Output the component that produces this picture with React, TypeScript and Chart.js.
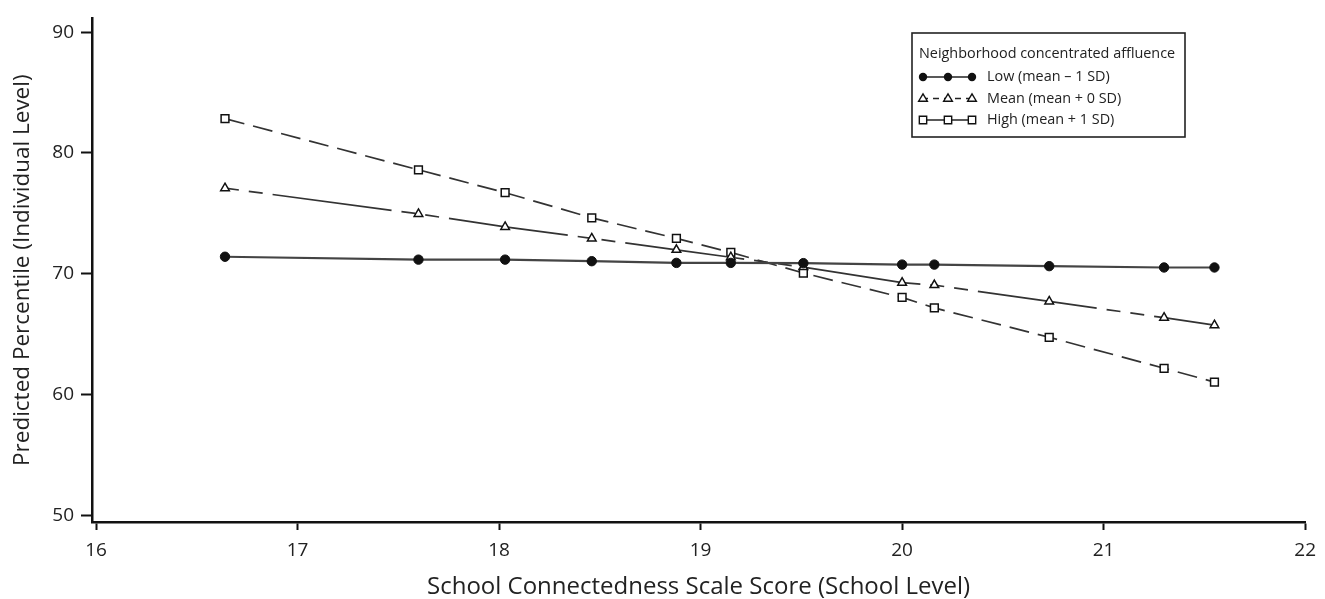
import React, { useEffect, useRef } from 'react';
import { Chart, registerables } from 'chart.js';

Chart.register(...registerables);

// School connectedness scale score (school level)
const xValues = [16.64, 17.6, 18.03, 18.46, 18.88, 19.15, 19.51, 20.0, 20.16, 20.73, 21.3, 21.55];
// Predicted percentile by neighborhood concentrated affluence
const lowValues = [71.4, 71.16, 71.16, 71.03, 70.89, 70.89, 70.87, 70.75, 70.75, 70.62, 70.51, 70.51];
const meanValues = [77.08, 74.95, 73.87, 72.92, 71.97, 71.36, 70.54, 69.25, 69.05, 67.7, 66.35, 65.73];
const highValues = [82.84, 78.6, 76.71, 74.62, 72.92, 71.76, 70.05, 68.03, 67.16, 64.73, 62.16, 61.02];

const seriesLabels = ['Low (mean \u2013 1 SD)', 'Mean (mean + 0 SD)', 'High (mean + 1 SD)'];
const legendTitle = 'Neighborhood concentrated affluence';
const xTicks = [16, 17, 18, 19, 20, 21, 22];
const yTicks = [50, 60, 70, 80, 90];
const xTitle = 'School Connectedness Scale Score (School Level)';
const yTitle = 'Predicted Percentile (Individual Level)';

const FONT = '"Open Sans", "Noto Sans", sans-serif';

function drawMarker(ctx: CanvasRenderingContext2D, style: string, x: number, y: number, r: number) {
  ctx.save();
  ctx.setLineDash([]);
  ctx.lineWidth = 1.4;
  ctx.strokeStyle = '#111';
  ctx.beginPath();
  if (style === 'circle') {
    ctx.fillStyle = '#111';
    ctx.arc(x, y, r, 0, Math.PI * 2);
    ctx.fill();
  } else if (style === 'triangle') {
    ctx.fillStyle = '#fff';
    ctx.moveTo(x, y - r);
    ctx.lineTo(x + r * 0.95, y + r * 0.6);
    ctx.lineTo(x - r * 0.95, y + r * 0.6);
    ctx.closePath();
    ctx.fill();
    ctx.stroke();
  } else {
    ctx.fillStyle = '#fff';
    ctx.rect(x - r * 0.8, y - r * 0.8, r * 1.6, r * 1.6);
    ctx.fill();
    ctx.stroke();
  }
  ctx.restore();
}

const boxLegend = {
  id: 'boxLegend',
  afterDatasetsDraw(chart: any) {
    const ctx: CanvasRenderingContext2D = chart.ctx;
    const left = 912;
    const top = 33;
    const w = 273;
    const h = 104;
    ctx.save();
    ctx.fillStyle = '#fff';
    ctx.fillRect(left, top, w, h);
    ctx.strokeStyle = '#222';
    ctx.lineWidth = 1.6;
    ctx.strokeRect(left, top, w, h);
    ctx.fillStyle = '#222';
    ctx.font = `14.4px ${FONT}`;
    ctx.textBaseline = 'middle';
    ctx.textAlign = 'left';
    ctx.fillText(legendTitle, 919, 54);
    const rows = [77, 98.5, 120];
    const styles = ['circle', 'triangle', 'rect'];
    const dashes = [[], [6, 5], []];
    chart.data.datasets.forEach((ds: any, i: number) => {
      const y = rows[i];
      ctx.save();
      ctx.strokeStyle = '#222';
      ctx.lineWidth = 1.6;
      ctx.setLineDash(dashes[i]);
      ctx.beginPath();
      ctx.moveTo(922, y);
      ctx.lineTo(973, y);
      ctx.stroke();
      ctx.restore();
      [923, 948, 972].forEach((mx) => drawMarker(ctx, styles[i], mx, y, i === 0 ? 4.2 : 4.6));
      ctx.fillStyle = '#222';
      ctx.font = `14.4px ${FONT}`;
      ctx.fillText(ds.label, 987, y);
    });
    ctx.restore();
  },
};

export default function App() {
  const canvasRef = useRef<HTMLCanvasElement | null>(null);

  useEffect(() => {
    document.body.style.margin = '0';
    const canvas = canvasRef.current;
    if (!canvas) return;
    const toPts = (vals: number[]) => vals.map((v, i) => ({ x: xValues[i], y: v }));
    const chart = new Chart(canvas, {
      type: 'line',
      data: {
        datasets: [
          {
            label: seriesLabels[0],
            data: toPts(lowValues),
            borderColor: '#444',
            borderWidth: 2.2,
            pointStyle: 'circle',
            pointRadius: 4.7,
            pointBackgroundColor: '#111',
            pointBorderColor: '#111',
            pointBorderWidth: 1,
            tension: 0,
          },
          {
            label: seriesLabels[1],
            data: toPts(meanValues),
            borderColor: '#333',
            borderWidth: 1.7,
            borderDash: [14, 10, 14, 10, 120, 10],
            pointStyle: 'triangle',
            pointRadius: 5,
            pointBackgroundColor: '#fff',
            pointBorderColor: '#111',
            pointBorderWidth: 1.5,
            tension: 0,
          },
          {
            label: seriesLabels[2],
            data: toPts(highValues),
            borderColor: '#333',
            borderWidth: 1.7,
            borderDash: [20, 9],
            pointStyle: 'rect',
            pointRadius: 5.5,
            pointBackgroundColor: '#fff',
            pointBorderColor: '#111',
            pointBorderWidth: 1.5,
            tension: 0,
          },
        ],
      },
      options: {
        responsive: false,
        animation: false,
        layout: { padding: { left: 0, top: 10, right: 19, bottom: 0 } },
        plugins: {
          legend: { display: false },
          tooltip: { enabled: false },
        },
        scales: {
          x: {
            type: 'linear',
            min: 15.98,
            max: 22,
            afterBuildTicks: (axis: any) => {
              axis.ticks = xTicks.map((v) => ({ value: v }));
            },
            afterFit: (scale: any) => {
              scale.height = 77;
            },
            grid: {
              display: true,
              drawOnChartArea: false,
              drawTicks: true,
              tickLength: 8,
              tickWidth: 2,
              tickColor: '#111',
            },
            border: { display: true, color: '#111', width: 2.5 },
            ticks: {
              color: '#222',
              padding: 9,
              maxRotation: 0,
              autoSkip: false,
              font: { family: FONT, size: 19 },
              callback: (v: any) => String(v),
            },
            title: {
              display: true,
              text: xTitle,
              color: '#222',
              font: { family: FONT, size: 24, lineHeight: 1 },
              padding: { top: 0, bottom: 0 },
            },
          },
          y: {
            type: 'linear',
            min: 49.43,
            max: 91.14,
            afterBuildTicks: (axis: any) => {
              axis.ticks = yTicks.map((v) => ({ value: v }));
            },
            afterFit: (scale: any) => {
              scale.width = 92;
            },
            grid: {
              display: true,
              drawOnChartArea: false,
              drawTicks: true,
              tickLength: 11,
              tickWidth: 2,
              tickColor: '#111',
            },
            border: { display: true, color: '#111', width: 2.5 },
            ticks: {
              color: '#222',
              padding: 7,
              autoSkip: false,
              font: { family: FONT, size: 19 },
              callback: (v: any) => String(v),
            },
            title: {
              display: true,
              text: yTitle,
              color: '#222',
              font: { family: FONT, size: 22.5, lineHeight: 1 },
              padding: { top: 11, bottom: 0 },
            },
          },
        },
      },
      plugins: [boxLegend],
    });
    return () => chart.destroy();
  }, []);

  return (
    <div style={{ position: 'relative', width: 1325, height: 599, background: '#fff' }}>
      <canvas ref={canvasRef} width={1325} height={599} />
    </div>
  );
}
